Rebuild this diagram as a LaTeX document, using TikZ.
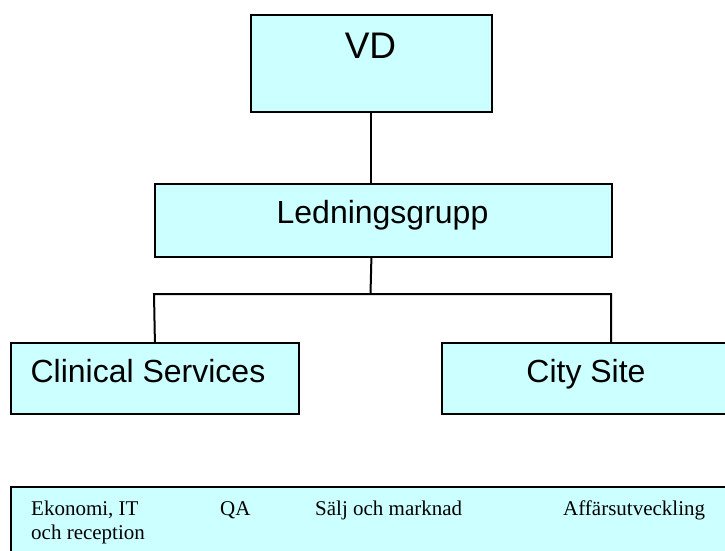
\documentclass[tikz,border=0pt]{standalone}
\usepackage{fontspec}
\setmainfont{Liberation Serif}
\newfontfamily\arialfont{Liberation Sans}
\definecolor{boxfill}{HTML}{CCFFFF}
\begin{document}
\begin{tikzpicture}[x=1pt,y=-1pt,
  box/.style={draw=black, line width=1.8pt, fill=boxfill, inner sep=0pt, anchor=north west},
  conn/.style={draw=black, line width=2pt},
  bigtxt/.style={font=\arialfont\fontsize{32}{38}\selectfont, anchor=base, inner sep=0pt},
  smalltxt/.style={font=\fontsize{21}{24}\selectfont, anchor=base west, inner sep=0pt}]
\useasboundingbox (0,0) rectangle (725,551);
% boxes
\node[box, minimum width=241pt, minimum height=97pt] (vd) at (250,14) {};
\node[box, minimum width=457pt, minimum height=73pt] (lg) at (154,183) {};
\node[box, minimum width=288pt, minimum height=71pt] (cs) at (10,342) {};
\node[box, minimum width=340pt, minimum height=71pt] (cit) at (441,342) {};
\node[box, minimum width=740pt, minimum height=90pt] (bot) at (10,486) {};
% texts
\node[bigtxt, font=\arialfont\fontsize{37}{42}\selectfont] (vdt) at (370.5,59) {VD};
\node[bigtxt] (lgt) at (382.5,223) {Ledningsgrupp};
\node[bigtxt] (cst) at (148,382) {Clinical Services};
\node[bigtxt] (citt) at (586,382) {City Site};
\node[smalltxt] (t1) at (31,515) {Ekonomi, IT};
\node[smalltxt] (t1b) at (31,539) {och reception};
\node[smalltxt] (t2) at (220,515) {QA};
\node[smalltxt] (t3) at (315,515) {Sälj och marknad};
\node[smalltxt] (t4) at (563,515) {Affärsutveckling};
% connectors
\coordinate (j) at (370.5,294);
\coordinate (jl) at (154,294);
\coordinate (jr) at (611,294);
\draw[conn] (vd.south) -- (vd.south |- lg.north);
\draw[conn] (vd.south |- lg.south) -- (j);
\draw[conn] (cs.north) -- (jl) -- (jr) -- (jr |- cit.north);
\end{tikzpicture}
\end{document}
